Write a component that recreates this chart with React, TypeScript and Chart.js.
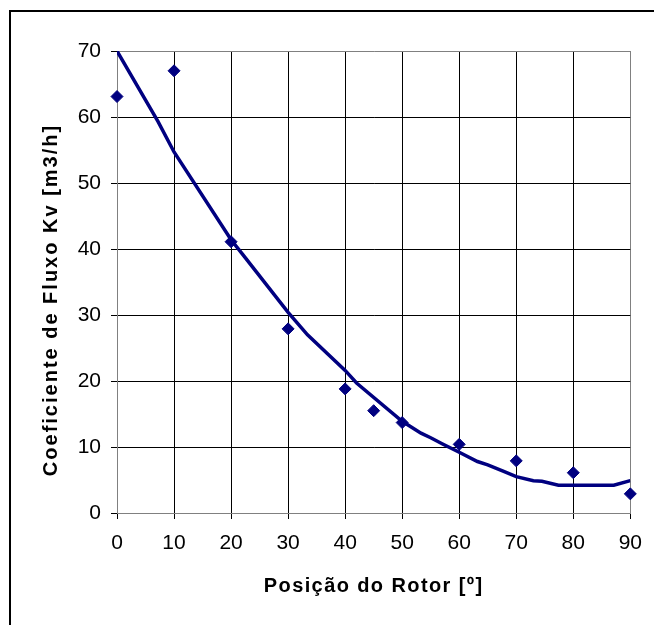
import React, { useEffect, useRef } from "react";
import { Chart, registerables } from "chart.js";

Chart.register(...registerables);

// Measured points (Posição do Rotor [º] vs Kv [m3/h])
const positions = [0, 10, 20, 30, 40, 45, 50, 60, 70, 80, 90];
const kvMeasured = [63.1, 67.0, 41.1, 27.9, 18.8, 15.5, 13.7, 10.4, 7.9, 6.1, 2.9];

// Trend line
const trendX = [0, 7.2, 10, 20, 22.1, 30, 33.4, 40, 42, 50, 53.3, 55, 57, 60, 63.2, 65, 67.8, 70, 73, 74.5, 77.4, 87.1, 90];
const trendKv = [70, 59.3, 54.7, 41.4, 39.1, 30.4, 27.0, 21.6, 19.7, 13.9, 12.1, 11.4, 10.5, 9.2, 7.8, 7.3, 6.3, 5.5, 4.9, 4.8, 4.2, 4.2, 4.9];

const xTitle = "Posição do Rotor [º]";
const yTitle = "Coeficiente de Fluxo Kv [m3/h]";
const xMin = 0, xMax = 90, xStep = 10;
const yMin = 0, yMax = 70, yStep = 10;

const NAVY = "#000080";
const GRAY = "#808080";
const FONT = "'Liberation Sans', Arial, sans-serif";

const titleSpacingPlugin = {
  id: "titleSpacing",
  afterUpdate(chart: any) {
    const patch = (scale: any, spacing: string, dy: number) => {
      if (!scale || scale.__patched) return;
      const orig = scale.drawTitle.bind(scale);
      scale.drawTitle = () => {
        const ctx = scale.ctx;
        ctx.save();
        (ctx as any).letterSpacing = spacing;
        ctx.translate(0, dy);
        orig();
        ctx.restore();
      };
      scale.__patched = true;
    };
    patch(chart.scales.x, "1.4px", 0);
    patch(chart.scales.y, "2px", 18);
  },
};

export default function App() {
  const ref = useRef<HTMLCanvasElement | null>(null);

  useEffect(() => {
    if (!ref.current) return;
    const chart = new Chart(ref.current, {
      type: "scatter",
      data: {
        datasets: [
          {
            type: "line",
            label: "Tendência",
            data: trendX.map((x, i) => ({ x, y: trendKv[i] })),
            borderColor: NAVY,
            borderWidth: 3.5,
            pointRadius: 0,
            tension: 0,
            fill: false,
          } as any,
          {
            type: "scatter",
            label: "Kv",
            data: positions.map((x, i) => ({ x, y: kvMeasured[i] })),
            pointStyle: "rectRot",
            pointRadius: 6,
            pointBackgroundColor: NAVY,
            pointBorderColor: NAVY,
            pointBorderWidth: 1,
            clip: false,
          } as any,
        ],
      },
      options: {
        animation: false,
        responsive: false,
        devicePixelRatio: 1,
        layout: { padding: { top: 51, right: 22, left: 0, bottom: 0 } },
        plugins: {
          legend: { display: false },
          tooltip: { enabled: false },
        },
        scales: {
          x: {
            type: "linear",
            min: xMin,
            max: xMax,
            afterFit: (s: any) => { s.height = 112; },
            ticks: {
              stepSize: xStep,
              color: "#000",
              padding: 12,
              font: { family: FONT, size: 21 },
              maxRotation: 0,
            },
            grid: {
              color: (c: any) => (c.tick && (c.tick.value === xMin || c.tick.value === xMax) ? GRAY : "#000"),
              tickColor: "#000",
              tickLength: 6,
              lineWidth: 1,
            },
            border: { color: GRAY, width: 1 },
            title: {
              display: true,
              text: xTitle,
              color: "#000",
              font: { family: FONT, size: 20, weight: "bold" },
              padding: { top: 0, bottom: 27 },
            },
          },
          y: {
            type: "linear",
            min: yMin,
            max: yMax,
            afterFit: (s: any) => { s.width = 117; },
            ticks: {
              stepSize: yStep,
              color: "#000",
              padding: 10,
              font: { family: FONT, size: 21 },
            },
            grid: {
              color: (c: any) => (c.tick && (c.tick.value === yMin || c.tick.value === yMax) ? GRAY : "#000"),
              tickColor: "#000",
              tickLength: 6,
              lineWidth: 1,
            },
            border: { color: GRAY, width: 1 },
            title: {
              display: true,
              text: yTitle,
              color: "#000",
              font: { family: FONT, size: 20, weight: "bold" },
              padding: { top: 39, bottom: 0 },
            },
          },
        },
      },
      plugins: [titleSpacingPlugin as any],
    });
    return () => chart.destroy();
  }, []);

  return (
    <div
      style={{
        position: "fixed",
        left: 0,
        top: 0,
        width: 654,
        height: 625,
        overflow: "hidden",
        background: "#fff",
      }}
    >
      <div
        style={{
          position: "absolute",
          left: 9,
          top: 10,
          width: 720,
          height: 720,
          border: "2px solid #000",
        }}
      />
      <canvas
        ref={ref}
        width={654}
        height={625}
        style={{ position: "absolute", left: 0, top: 0, width: 654, height: 625 }}
      />
    </div>
  );
}
